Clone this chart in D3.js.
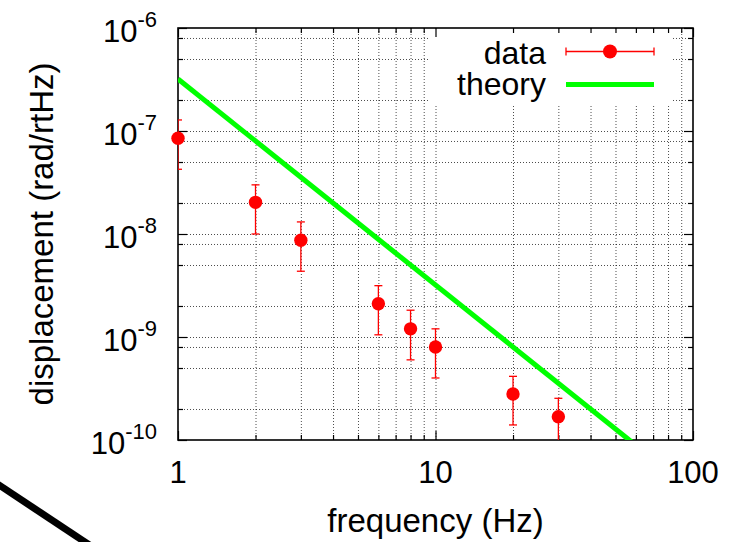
<!DOCTYPE html>
<html><head><meta charset="utf-8">
<script src="https://cdn.jsdelivr.net/npm/d3@7"></script>
<style>body{margin:0;background:#fff}svg{display:block}</style>
</head><body><svg id="c" width="731" height="542"></svg>
<script>
// ---- data ----
const freq     = [1, 2, 3, 6, 8, 10, 20, 30];
const disp     = [8.5e-8, 2.03e-8, 8.7e-9, 2.1e-9, 1.2e-9, 8.0e-10, 2.8e-10, 1.68e-10];
const errLow   = [4.25e-8, 1.0e-8, 4.35e-9, 1.05e-9, 6.0e-10, 4.0e-10, 1.4e-10, 8.4e-11];
const errHigh  = [1.28e-7, 3.0e-8, 1.31e-8, 3.15e-9, 1.82e-9, 1.2e-9, 4.15e-10, 2.54e-10];
const theoryFreq = [1, 100];
const theoryDisp = [3.2e-7, 3.2e-11];
const xMajor = [1, 10, 100];
const xTickLabels = ["1", "10", "100"];
const yMajor = [1e-10, 1e-9, 1e-8, 1e-7, 1e-6];
const yExponents = ["-10", "-9", "-8", "-7", "-6"];
const xMinorMult = [2, 3, 4, 5, 6, 7, 8, 9];
const yMinorMult = [2, 5, 8];
const legendLabels = ["data", "theory"];

const svg = d3.select("#c");
const font = "'Liberation Sans', Arial, Helvetica, sans-serif";
const L = 178, R = 693, T = 28, B = 440;
const x = d3.scaleLog().domain([1, 100]).range([L, R]);
const y = d3.scaleLog().domain([1e-10, 1e-6]).range([B, T]);

const xMinor = [];
[1, 10].forEach(d => xMinorMult.forEach(m => xMinor.push(d * m)));
const yMinor = [];
[1e-10, 1e-9, 1e-8, 1e-7].forEach(d => yMinorMult.forEach(m => yMinor.push(d * m)));

// ---- grid ----
const gridStyle = g => {
  g.select(".domain").remove();
  g.selectAll("line").attr("stroke", "#000").attr("stroke-width", 1)
    .attr("stroke-dasharray", "1,2").attr("opacity", 0.7);
};
svg.append("g").attr("transform", `translate(0,${B})`)
  .call(d3.axisBottom(x).tickValues(xMinor.concat([10])).tickSize(-(B - T)).tickFormat(""))
  .call(gridStyle);
svg.append("g").attr("transform", `translate(${L},0)`)
  .call(d3.axisLeft(y).tickValues(yMinor.concat([1e-9, 1e-8, 1e-7])).tickSize(-(R - L)).tickFormat(""))
  .call(gridStyle);

// legend background (key box clears grid)
svg.append("rect").attr("x", 430).attr("y", T + 1).attr("width", 242).attr("height", 76).attr("fill", "#fff");

// ---- ticks and frame ----
const tickStyle = g => {
  g.select(".domain").remove();
  g.selectAll("line").attr("stroke", "#000").attr("stroke-width", 1.2);
};
[[d3.axisBottom, B], [d3.axisTop, T]].forEach(([ax, pos]) => {
  svg.append("g").attr("transform", `translate(0,${pos})`)
    .call(ax(x).tickValues(xMajor).tickSize(-9).tickFormat("")).call(tickStyle);
  svg.append("g").attr("transform", `translate(0,${pos})`)
    .call(ax(x).tickValues(xMinor).tickSize(-5).tickFormat("")).call(tickStyle);
});
[[d3.axisLeft, L], [d3.axisRight, R]].forEach(([ax, pos]) => {
  svg.append("g").attr("transform", `translate(${pos},0)`)
    .call(ax(y).tickValues(yMajor).tickSize(-9).tickFormat("")).call(tickStyle);
  svg.append("g").attr("transform", `translate(${pos},0)`)
    .call(ax(y).tickValues(yMinor).tickSize(-5).tickFormat("")).call(tickStyle);
});
svg.append("rect").attr("x", L).attr("y", T).attr("width", R - L).attr("height", B - T)
  .attr("fill", "none").attr("stroke", "#000").attr("stroke-width", 1.6);

// ---- tick labels ----
xMajor.forEach((v, i) => {
  svg.append("text").attr("x", x(v)).attr("y", B + 43).attr("text-anchor", "middle")
    .attr("font-family", font).attr("font-size", 31).text(xTickLabels[i]);
});
yMajor.forEach((v, i) => {
  const t = svg.append("text").attr("x", 157).attr("y", y(v) + 14).attr("text-anchor", "end")
    .attr("font-family", font).attr("font-size", 31);
  t.append("tspan").text("10");
  t.append("tspan").attr("dy", -15).attr("font-size", 22).text(yExponents[i]);
});

// axis titles
svg.append("text").attr("x", (L + R) / 2).attr("y", 532).attr("text-anchor", "middle")
  .attr("font-family", font).attr("font-size", 33).text("frequency (Hz)");
svg.append("text").attr("transform", `translate(53,${(T + B) / 2}) rotate(-90)`)
  .attr("text-anchor", "middle").attr("font-family", font).attr("font-size", 33)
  .text("displacement (rad/rtHz)");

// ---- data ----
svg.append("clipPath").attr("id", "clip").append("rect")
  .attr("x", L).attr("y", T).attr("width", R - L).attr("height", B - T);
const plot = svg.append("g").attr("clip-path", "url(#clip)");

const theory = theoryFreq.map((f, i) => [f, theoryDisp[i]]);
plot.append("path").datum(theory)
  .attr("d", d3.line().x(d => x(d[0])).y(d => y(d[1])))
  .attr("fill", "none").attr("stroke", "#00ff00").attr("stroke-width", 5);

const pts = freq.map((f, i) => ({f, v: disp[i], lo: errLow[i], hi: errHigh[i]}));
const eb = plot.append("g").attr("stroke", "#ff0000").attr("stroke-width", 1.3);
pts.forEach(p => {
  eb.append("line").attr("x1", x(p.f)).attr("x2", x(p.f)).attr("y1", y(p.lo)).attr("y2", y(p.hi));
  [p.lo, p.hi].forEach(e => eb.append("line").attr("x1", x(p.f) - 4).attr("x2", x(p.f) + 4)
    .attr("y1", y(e)).attr("y2", y(e)));
});
svg.append("g").selectAll("circle").data(pts).join("circle")
  .attr("cx", d => x(d.f)).attr("cy", d => y(d.v)).attr("r", 6.7).attr("fill", "#ff0000");

// ---- legend ----
const lg = svg.append("g").attr("font-family", font).attr("font-size", 32);
lg.append("text").attr("x", 546).attr("y", 64).attr("text-anchor", "end").text(legendLabels[0]);
lg.append("text").attr("x", 546).attr("y", 95).attr("text-anchor", "end").text(legendLabels[1]);
lg.append("line").attr("x1", 566).attr("x2", 654).attr("y1", 51.5).attr("y2", 51.5)
  .attr("stroke", "#ff0000").attr("stroke-width", 1.3);
[566, 654].forEach(xx => lg.append("line").attr("x1", xx).attr("x2", xx).attr("y1", 47.5).attr("y2", 55.5)
  .attr("stroke", "#ff0000").attr("stroke-width", 1.3));
lg.append("circle").attr("cx", 610).attr("cy", 51.5).attr("r", 7).attr("fill", "#ff0000");
lg.append("line").attr("x1", 566).attr("x2", 654).attr("y1", 84.5).attr("y2", 84.5)
  .attr("stroke", "#00ff00").attr("stroke-width", 5);

// stray black stroke at lower left (present in the reference picture)
svg.append("line").attr("x1", -10).attr("y1", 479).attr("x2", 100).attr("y2", 552)
  .attr("stroke", "#000").attr("stroke-width", 7);
</script></body></html>
